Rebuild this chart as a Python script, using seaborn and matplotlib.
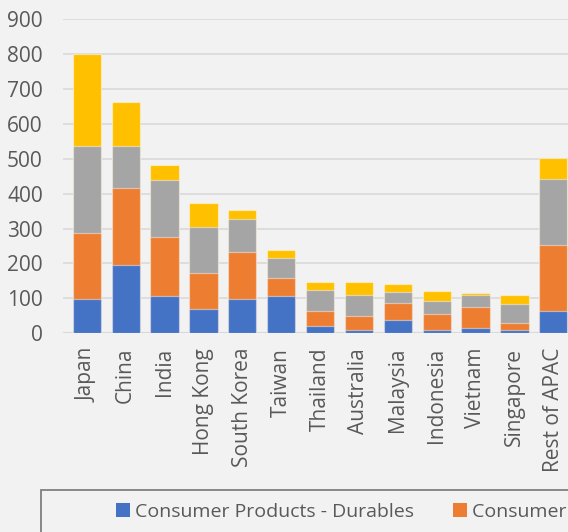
import matplotlib
matplotlib.use("Agg")
import matplotlib.pyplot as plt
import seaborn as sns
import pandas as pd
import numpy as np
from matplotlib.patches import Rectangle, Patch

countries = ["Japan", "China", "India", "Hong Kong", "South Korea", "Taiwan",
             "Thailand", "Australia", "Malaysia", "Indonesia", "Vietnam",
             "Singapore", "Rest of APAC"]
series_names = ["Consumer Products - Durables", "Consumer Products - Non-Durables",
                "Consumer Services", "Other"]
durables = [98, 195, 108, 70, 98, 108, 22, 10, 39, 10, 16, 10, 65]
non_durables = [189, 222, 169, 104, 136, 49, 43, 40, 49, 44, 60, 19, 189]
services = [248, 118, 161, 129, 92, 60, 60, 59, 31, 39, 33, 54, 189]
other = [265, 126, 44, 70, 26, 22, 22, 38, 22, 27, 6, 27, 60]
colors = ["#4472C4", "#ED7D31", "#A5A5A5", "#FFC000"]
yticks = [0, 100, 200, 300, 400, 500, 600, 700, 800, 900]

W, H = 568, 532
sns.set_theme(style="white")
plt.rcParams["font.family"] = ["Open Sans", "DejaVu Sans"]
fig = plt.figure(figsize=(W / 100, H / 100), dpi=100, facecolor="#F2F2F2")
left, right, top, bottom = 63, 572.7, 19, 333.3
ax = fig.add_axes([left / W, 1 - bottom / H, (right - left) / W, (bottom - top) / H])
ax.set_facecolor("#F2F2F2")

layers = [durables, non_durables, services, other]
cum = np.cumsum(np.array(layers), axis=0)
df = pd.DataFrame({"country": countries})
for i in range(4):
    df[f"c{i}"] = cum[i]

for i in reversed(range(4)):
    sns.barplot(data=df, x="country", y=f"c{i}", color=colors[i], ax=ax,
                width=0.728, saturation=1, edgecolor=(1, 1, 1, 0.45),
                linewidth=0.9, zorder=3)

ax.set_xlim(-0.614, 12.5)
ax.set_ylim(0, 900)
ax.set_yticks(yticks)
ax.set_yticklabels([str(v) for v in yticks])
for v in yticks:
    ax.axhline(v, color="#D9D9D9", lw=1.5 if v == 0 else 1.2, zorder=1)
for s in ax.spines.values():
    s.set_visible(False)
ax.set_xlabel("")
ax.set_ylabel("")
ax.tick_params(axis="y", length=0, pad=14.5, labelsize=15, labelcolor="#595959")
ax.tick_params(axis="x", length=0, pad=10.5, labelsize=15, labelcolor="#595959",
               labelrotation=90)
for lab in ax.get_xticklabels():
    lab.set_va("top")
    lab.set_ha("center")

# legend box (extends past figure edges)
fig.patches.append(Rectangle((41 / W, -0.2), 1.0, 1 - 490 / H + 0.2,
                             transform=fig.transFigure, facecolor="none",
                             edgecolor="#7F7F7F", lw=1.3, clip_on=False))
handles = [Patch(facecolor=c, edgecolor="none") for c in colors]
fig.legend(handles, series_names, loc="upper left",
           bbox_to_anchor=(116 / W, 1 - 503 / H), ncol=4, frameon=False,
           fontsize=14, labelcolor="#595959", handlelength=0.72,
           handleheight=0.72, handletextpad=0.26, columnspacing=2.0,
           borderpad=0, borderaxespad=0)

fig.savefig("out.png", dpi=100, facecolor=fig.get_facecolor())
